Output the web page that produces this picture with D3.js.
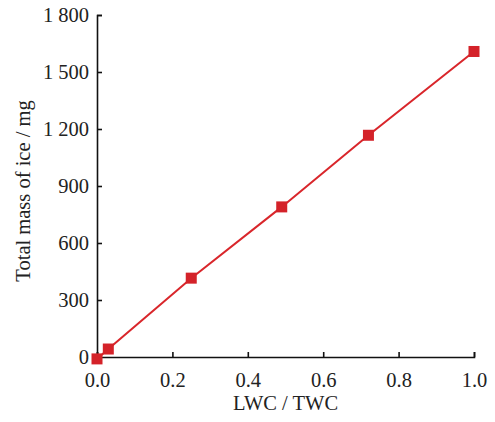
<!DOCTYPE html>
<html>
<head>
<meta charset="utf-8">
<script src="https://cdn.jsdelivr.net/npm/d3@7"></script>
<style>
  html, body { margin: 0; padding: 0; background: #fff; }
  svg { display: block; }
  .axis text { font-family: "Liberation Serif", "Times New Roman", serif; font-size: 20.5px; fill: #222; }
  .axis path, .axis line { stroke: #111; stroke-width: 1.6px; }
  .title { font-family: "Liberation Serif", "Times New Roman", serif; font-size: 20.5px; fill: #222; }
</style>
</head>
<body>
<svg id="chart" width="495" height="422"></svg>
<script>
// LWC/TWC ratio and measured total ice mass (mg)
const ratio = [0, 0.03, 0.25, 0.49, 0.72, 1.0];
const iceMass = [-10, 42, 415, 790, 1167, 1608];
const xTicks = [0, 0.2, 0.4, 0.6, 0.8, 1.0];
const yTicks = [0, 300, 600, 900, 1200, 1500, 1800];

const svg = d3.select("#chart");
const margin = { left: 97, right: 21, top: 15, bottom: 65 };
const W = 495, H = 422;

const x = d3.scaleLinear().domain([0, 1]).range([margin.left, W - margin.right]);
const y = d3.scaleLinear().domain([0, 1800]).range([H - margin.bottom, margin.top]);

// thousands grouped with a space, e.g. "1 800"
const fmtY = v => d3.format(",")(v).replace(/,/g, " ");

svg.append("g")
  .attr("class", "axis")
  .attr("transform", `translate(0,${y(0)})`)
  .call(d3.axisBottom(x).tickValues(xTicks).tickFormat(d3.format(".1f"))
    .tickSizeInner(-5).tickSizeOuter(-5).tickPadding(15));

svg.append("g")
  .attr("class", "axis")
  .attr("transform", `translate(${x(0)},0)`)
  .call(d3.axisLeft(y).tickValues(yTicks).tickFormat(fmtY)
    .tickSizeInner(-5).tickSizeOuter(-5).tickPadding(8));

const data = ratio.map((r, i) => ({ r, m: iceMass[i] }));

svg.append("path")
  .datum(data)
  .attr("fill", "none")
  .attr("stroke", "#d9262b")
  .attr("stroke-width", 2)
  .attr("d", d3.line().x(d => x(d.r)).y(d => y(d.m)));

const s = 11;
svg.append("g").selectAll("rect")
  .data(data)
  .join("rect")
  .attr("x", d => x(d.r) - s / 2)
  .attr("y", d => y(d.m) - s / 2)
  .attr("width", s)
  .attr("height", s)
  .attr("fill", "#d42229");

svg.append("text")
  .attr("class", "title")
  .attr("x", (x(0) + x(1)) / 2)
  .attr("y", 410)
  .attr("text-anchor", "middle")
  .text("LWC / TWC");

svg.append("text")
  .attr("class", "title")
  .attr("transform", `translate(30,${(y(0) + y(1800)) / 2 + 5}) rotate(-90)`)
  .attr("text-anchor", "middle")
  .text("Total mass of ice / mg");
</script>
</body>
</html>
